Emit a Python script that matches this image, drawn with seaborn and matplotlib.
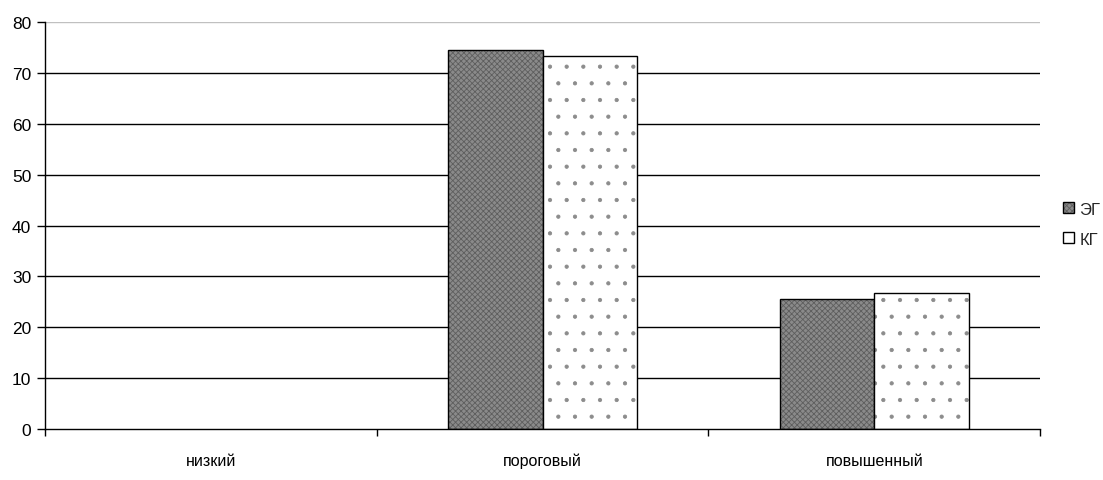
import matplotlib
matplotlib.use("Agg")
import matplotlib.pyplot as plt
import matplotlib.colors as mcolors
import seaborn as sns
import pandas as pd
from matplotlib.patches import Patch

sns.set_style("white")
plt.rcParams['font.family'] = ['Liberation Sans', 'DejaVu Sans']
plt.rcParams['hatch.linewidth'] = 0.6

# levels and group values (%)
levels = ['низкий', 'пороговый', 'повышенный']
groups = ['ЭГ', 'КГ']
eg_values = [0, 74.5, 25.5]
kg_values = [0, 73.3, 26.7]

df = pd.DataFrame({
    'level': levels * 2,
    'group': [groups[0]] * 3 + [groups[1]] * 3,
    'value': eg_values + kg_values,
})

fig, ax = plt.subplots(figsize=(11.03, 4.81), dpi=100)
fig.subplots_adjust(left=0.041, right=0.943, top=0.952, bottom=0.106)

# gridlines: top one light grey, others black
for y in range(10, 80, 10):
    ax.axhline(y, color='black', lw=1.0, zorder=0)
ax.axhline(80, color='#c0c0c0', lw=1.0, zorder=0)

sns.barplot(data=df, x='level', y='value', hue='group', order=levels,
            hue_order=groups, width=0.57, ax=ax, legend=False, zorder=2)

eg_face, eg_hatch = '#8a8a8a', '#5e5e5e'
n = len(levels)
for i, p in enumerate(ax.patches[:2 * n]):
    p.set_edgecolor('black')
    p.set_linewidth(1.0)
    if i < n:
        p.set_facecolor(eg_face)
        p.set_hatch('xxxxxx')
        p._hatch_color = mcolors.to_rgba(eg_hatch)
    else:
        p.set_facecolor('white')
        p.set_hatch('.')
        p._hatch_color = mcolors.to_rgba('#8c8c8c')
    if p.get_height() == 0:
        p.set_visible(False)

ax.set_xlim(-0.5, 2.5)
ax.set_ylim(0, 80)
ax.set_yticks(range(0, 81, 10))
ax.set_xticks([0, 1, 2])
ax.set_xticklabels(levels)
ax.set_xticks([-0.5, 0.5, 1.5, 2.5], minor=True)
ax.tick_params(axis='x', which='major', bottom=True, length=0, pad=17, labelsize=11.5)
ax.tick_params(axis='x', which='minor', bottom=True, length=5, width=1, color='black', direction='out')
ax.tick_params(axis='y', left=True, length=6, width=1, color='black', direction='out',
               labelsize=12.5, pad=4, labelcolor='black')
ax.tick_params(axis='x', labelcolor='black')
ax.set_xlabel('')
ax.set_ylabel('')

for s in ['top', 'right']:
    ax.spines[s].set_visible(False)
for s in ['left', 'bottom']:
    ax.spines[s].set_color('black')
    ax.spines[s].set_linewidth(1.0)

h1 = Patch(facecolor=eg_face, edgecolor='black', hatch='xxxxxx', label='ЭГ')
h1._hatch_color = mcolors.to_rgba(eg_hatch)
h2 = Patch(facecolor='white', edgecolor='black', label='КГ')
fig.legend(handles=[h1, h2], loc='center left', bbox_to_anchor=(0.958, 0.532),
           frameon=False, fontsize=12, handlelength=0.65, handleheight=0.65,
           handletextpad=0.3, labelspacing=0.9, borderaxespad=0)

fig.savefig('out.png', dpi=100)
